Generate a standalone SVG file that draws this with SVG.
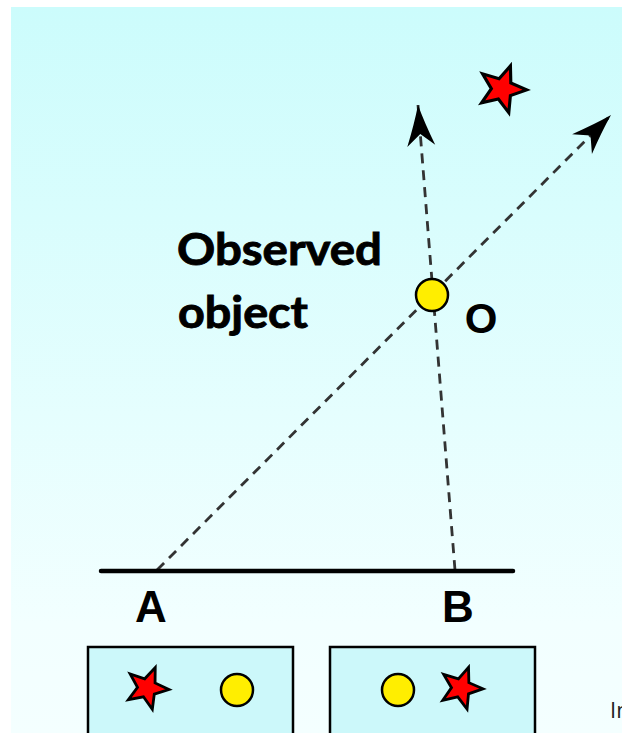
<svg xmlns="http://www.w3.org/2000/svg" xmlns:xlink="http://www.w3.org/1999/xlink" width="622" height="733" viewBox="0 0 622 733">
  <style>
    .dash { fill: none; stroke: #333; stroke-width: 2.8; stroke-dasharray: 10 7; }
    .star { fill: #ff0000; stroke: #000; stroke-width: 2.8; stroke-linejoin: miter; }
    .ball { fill: #ffee00; stroke: #000; stroke-width: 2.5; }
    .box { fill: #ccf8fa; stroke: #000; stroke-width: 2.5; }
    .lbl { font-family: "Liberation Sans", Arial, sans-serif; font-weight: bold; fill: #000; text-anchor: middle; }
    .title { font-family: Lato, "Open Sans", sans-serif; font-weight: bold; font-size: 43px; fill: #000; stroke: #000; stroke-width: 0.9; }
  </style>
  <defs>
    <linearGradient id="bg" x1="0" y1="0" x2="0" y2="1">
      <stop offset="0" stop-color="#ccfcfc"/>
      <stop offset="0.85" stop-color="#f2ffff"/>
      <stop offset="1" stop-color="#f4ffff"/>
    </linearGradient>
    <path id="starShape" d="M0,-22 L5.58,-7.69 L20.92,-6.8 L9.04,2.94 L12.93,17.8 L0,9.5 L-12.93,17.8 L-9.04,2.94 L-20.92,-6.8 L-5.58,-7.69 Z"/>
    <marker id="head" markerUnits="userSpaceOnUse" markerWidth="50" markerHeight="40" viewBox="-45 -20 50 40" refX="0" refY="0" orient="auto">
      <path d="M0,0 Q-18,-5 -41,-14 L-29,0 L-41,14 Q-18,5 0,0 Z" fill="#000"/>
    </marker>
  </defs>

  <rect x="0" y="0" width="622" height="733" fill="#ffffff"/>
  <rect x="11" y="7" width="611" height="726" fill="url(#bg)"/>

  <g id="connectors">
    <line class="dash" x1="157" y1="570" x2="611" y2="115" marker-end="url(#head)"/>
    <line class="dash" x1="455" y1="570" x2="418" y2="105" marker-end="url(#head)"/>
    <line x1="101" y1="571" x2="513" y2="571" stroke="#000" stroke-width="4.5" stroke-linecap="round"/>
  </g>

  <g id="star-far">
    <use xlink:href="#starShape" class="star" transform="translate(502,89) rotate(20) scale(1.12)"/>
  </g>

  <g id="object-O">
    <circle class="ball" cx="432" cy="295" r="16"/>
    <text class="lbl" x="481" y="333" font-size="42">O</text>
  </g>

  <g id="label-observed">
    <text class="title" x="177" y="265" textLength="205" lengthAdjust="spacingAndGlyphs">Observed</text>
    <text class="title" x="178" y="328" textLength="130" lengthAdjust="spacingAndGlyphs">object</text>
  </g>

  <g id="point-A">
    <text class="lbl" x="151" y="622" font-size="44">A</text>
  </g>
  <g id="point-B">
    <text class="lbl" x="458" y="622" font-size="44">B</text>
  </g>

  <g id="view-A">
    <rect class="box" x="88" y="647" width="205" height="100"/>
    <use xlink:href="#starShape" class="star" transform="translate(147,688) rotate(22)"/>
    <circle class="ball" cx="237" cy="690" r="16"/>
  </g>

  <g id="view-B">
    <rect class="box" x="330" y="647" width="205" height="100"/>
    <circle class="ball" cx="398" cy="690" r="16"/>
    <use xlink:href="#starShape" class="star" transform="translate(461,688) rotate(20)"/>
  </g>

  <text x="610" y="718" font-family="'Open Sans', sans-serif" font-size="22" fill="#222">In</text>
</svg>
